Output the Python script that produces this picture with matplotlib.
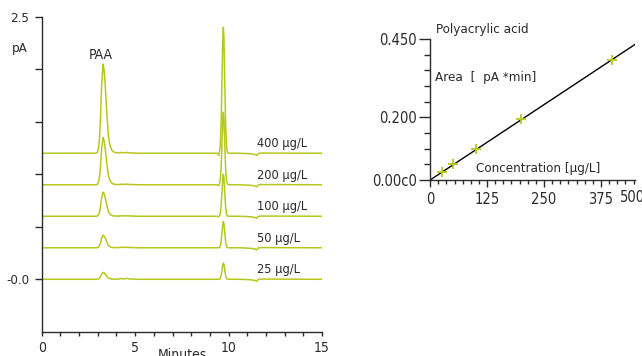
import matplotlib
matplotlib.use("Agg")
import matplotlib.pyplot as plt
from matplotlib.ticker import MultipleLocator, FixedLocator, AutoMinorLocator

plt.rcParams['font.family'] = ['DejaVu Sans']
plt.rcParams['font.stretch'] = 'condensed'

#%% data
# retention time grid (min) shared by all chromatograms
t = [0, 2.90, 2.98, 3.05, 3.10, 3.15, 3.20, 3.28, 3.34, 3.38, 3.44, 3.50, 3.57,
     3.65, 3.75, 3.85, 3.95, 4.15, 4.25, 4.35, 4.45, 4.55, 4.70, 5.20,
     9.40, 9.47, 9.50, 9.55, 9.60, 9.65, 9.69, 9.72, 9.75, 9.79, 9.84, 9.89,
     9.94, 10.02, 10.60, 11.20, 11.42, 11.50, 11.58, 11.70, 15.0]

sig_25 = [0, 0, 0.001, 0.005, 0.013, 0.028, 0.047, 0.065, 0.061, 0.053, 0.039, 0.025, 0.013,
          0.006, 0.002, 0.001, 0, 0.003, 0.008, 0.003, 0.006, 0.008, 0.003, 0,
          0, 0, 0.001, 0.008, 0.036, 0.094, 0.141, 0.155, 0.141, 0.094, 0.036, 0.008,
          0.001, 0, 0, -0.005, -0.012, -0.02, -0.003, 0.002, 0]
sig_50 = [0, 0, 0.001, 0.009, 0.024, 0.052, 0.087, 0.12, 0.112, 0.099, 0.073, 0.047, 0.023,
          0.011, 0.004, 0.002, 0.001, 0.002, 0.005, 0.003, 0.004, 0.005, 0.003, 0,
          0, 0, 0.002, 0.013, 0.058, 0.152, 0.228, 0.25, 0.228, 0.152, 0.058, 0.013,
          0.002, 0, 0, -0.005, -0.012, -0.02, -0.003, 0.002, 0]
sig_100 = [0, 0, 0.003, 0.016, 0.046, 0.099, 0.167, 0.23, 0.214, 0.189, 0.140, 0.089, 0.044,
           0.021, 0.008, 0.003, 0.002, 0.002, 0.005, 0.003, 0.004, 0.005, 0.003, 0,
           0, -0.005, 0.003, 0.021, 0.092, 0.243, 0.364, 0.40, 0.364, 0.243, 0.092, 0.021,
           0.003, 0, 0, -0.005, -0.012, -0.02, -0.003, 0.002, 0]
sig_200 = [0, 0, 0.005, 0.032, 0.089, 0.194, 0.327, 0.45, 0.419, 0.370, 0.273, 0.175, 0.087,
           0.041, 0.015, 0.006, 0.003, 0.002, 0.006, 0.003, 0.005, 0.006, 0.003, 0,
           0, -0.01, 0.005, 0.036, 0.159, 0.419, 0.628, 0.69, 0.628, 0.419, 0.159, 0.036,
           0.005, 0, 0, -0.005, -0.012, -0.02, -0.003, 0.002, 0]
sig_400 = [0, 0.001, 0.009, 0.060, 0.168, 0.366, 0.617, 0.85, 0.792, 0.700, 0.516, 0.331, 0.164,
           0.077, 0.028, 0.012, 0.006, 0.003, 0.008, 0.004, 0.006, 0.008, 0.004, 0,
           0, -0.02, 0.008, 0.062, 0.276, 0.728, 1.092, 1.20, 1.092, 0.728, 0.276, 0.062,
           0.008, 0, 0, -0.005, -0.012, -0.02, -0.003, 0.002, 0]

traces = [sig_25, sig_50, sig_100, sig_200, sig_400]
trace_labels = ['25 µg/L', '50 µg/L', '100 µg/L', '200 µg/L', '400 µg/L']
trace_offsets = [0.0, 0.3, 0.6, 0.9, 1.2]

# calibration
conc = [25, 50, 100, 200, 400]
area = [0.0246, 0.050, 0.098, 0.195, 0.383]
fit_x = [0, 450]
fit_y = [0, 0.433]

green = '#b5c81e'
ink = '#2a2a2a'

#%% figure
fig = plt.figure(figsize=(6.42, 3.56), dpi=100)

ax = fig.add_axes([0.065, 0.068, 0.4366, 0.885])
for sig, off, lab in zip(traces, trace_offsets, trace_labels):
    ax.plot(t, [v + off for v in sig], color=green, lw=1.1)
    ax.text(11.5, off + 0.03, lab, fontsize=9.2, color=ink, ha='left', va='bottom')

ax.set_xlim(0, 15)
ax.set_ylim(-0.5, 2.5)
ax.xaxis.set_major_locator(FixedLocator([0, 5, 10, 15]))
ax.xaxis.set_minor_locator(MultipleLocator(1))
ax.yaxis.set_major_locator(FixedLocator([0, 0.5, 1.0, 1.5, 2.0, 2.5]))
ax.set_yticklabels(['-0.0', '', '', '', '', '2.5'])
ax.tick_params(axis='y', which='major', length=5, width=1, pad=4, labelsize=9.5, colors=ink)
ax.tick_params(axis='x', which='both', length=3, width=1, pad=3.5, labelsize=10, colors=ink)
for s in ['top', 'right']:
    ax.spines[s].set_visible(False)
for s in ['left', 'bottom']:
    ax.spines[s].set_color(ink)
    ax.spines[s].set_linewidth(1)

ax.text(3.17, 2.14, 'PAA', fontsize=10, color=ink, ha='center', va='center')
ax.text(-1.15, 2.2, 'pA', fontsize=9.5, color=ink, ha='center', va='center', clip_on=False)
ax.text(0.5, -0.052, 'Minutes', fontsize=10, color=ink, ha='center', va='top',
        transform=ax.transAxes)

ax2 = fig.add_axes([0.67, 0.4944, 0.3193, 0.396])
ax2.plot(fit_x, fit_y, color='black', lw=1)
ax2.plot(conc, area, '+', color=green, ms=7, mew=1.3)
ax2.set_xlim(0, 450)
ax2.set_ylim(0, 0.45)
ax2.xaxis.set_major_locator(FixedLocator([0, 125, 250, 375]))
ax2.xaxis.set_minor_locator(AutoMinorLocator(7))
ax2.yaxis.set_major_locator(FixedLocator([0, 0.2, 0.45]))
ax2.yaxis.set_minor_locator(MultipleLocator(0.05))
ax2.set_yticklabels(['0.00c0', '0.200', '0.450'])
ax2.tick_params(axis='y', which='major', length=8, width=1, pad=1.5, labelsize=10.5, colors=ink)
ax2.tick_params(axis='y', which='minor', length=4, width=1, colors=ink)
ax2.tick_params(axis='x', which='major', length=5, width=1, pad=4, labelsize=10.5, colors=ink)
ax2.tick_params(axis='x', which='minor', length=3, width=1, colors=ink)
for s in ['top', 'right']:
    ax2.spines[s].set_visible(False)
for s in ['left', 'bottom']:
    ax2.spines[s].set_color(ink)
    ax2.spines[s].set_linewidth(1)

ax2.text(0.985, -0.07, '500', fontsize=10.5, color=ink, ha='center', va='top',
         transform=ax2.transAxes, clip_on=False)
ax2.text(0.03, 1.071, 'Polyacrylic acid', fontsize=9.6, color=ink, ha='left', va='center',
         transform=ax2.transAxes)
ax2.text(0.025, 0.728, 'Area  [  pA *min]', fontsize=9.6, color=ink, ha='left', va='center',
         transform=ax2.transAxes)
ax2.text(100, 0.037, 'Concentration [µg/L]', fontsize=9.6, color=ink, ha='left', va='center')

fig.savefig('out.png', dpi=100)
